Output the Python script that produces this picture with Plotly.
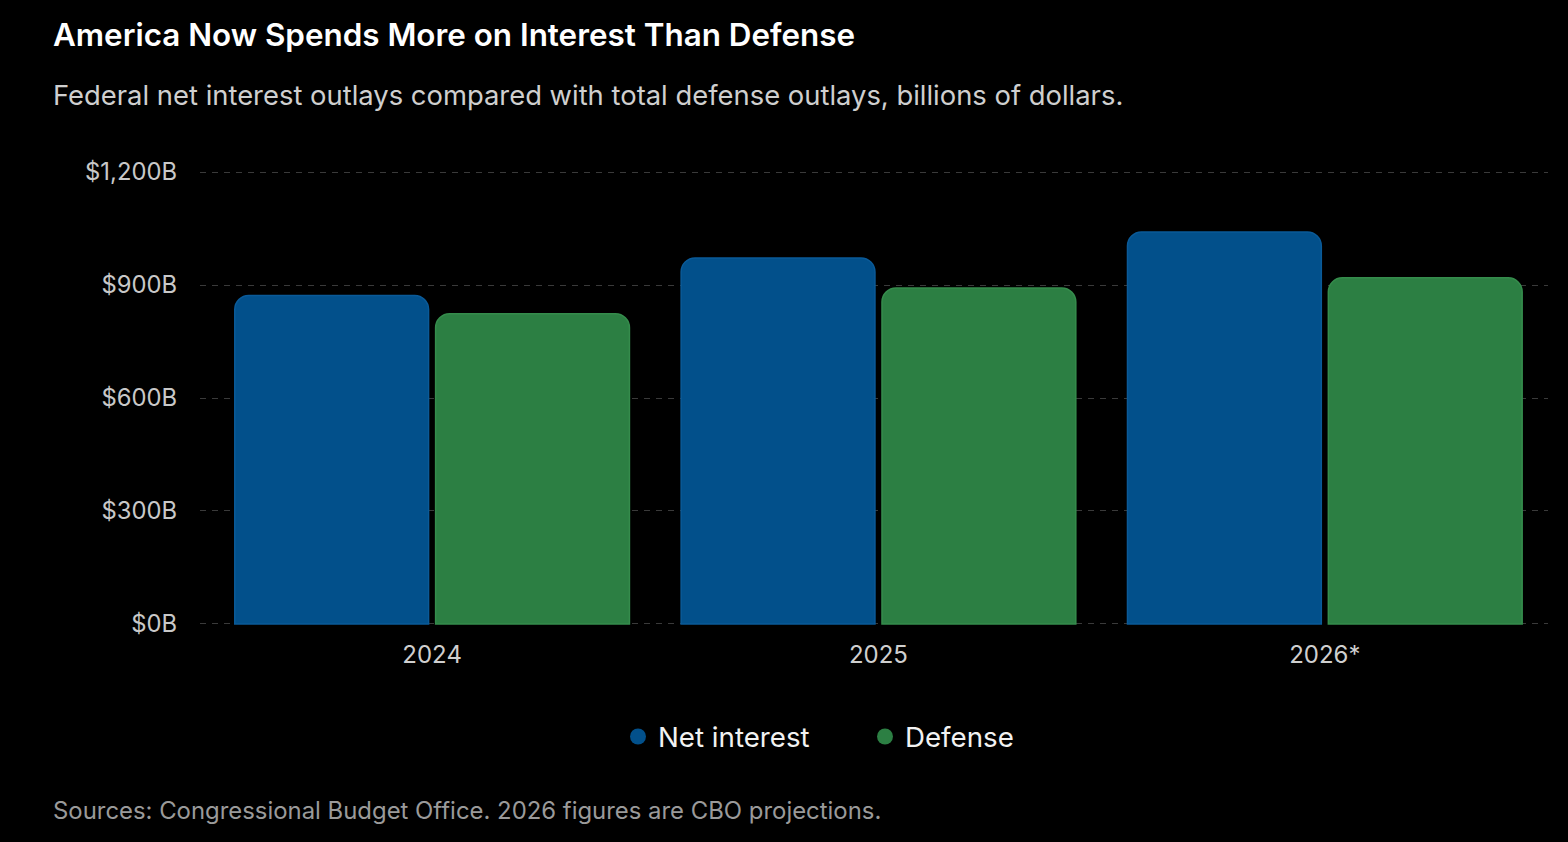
import plotly.graph_objects as go

# Federal outlays, billions of dollars
years = ["2024", "2025", "2026*"]
net_interest = [872, 972, 1041]
defense = [824, 892, 919]

series_names = ["Net interest", "Defense"]
tick_vals = [0, 300, 600, 900, 1200]
tick_text = ["$0B", "$300B", "$600B", "$900B", "$1,200B"]

BLUE = "#02508b"
BLUE_EDGE = "#0a5a98"
GREEN = "#2c7f43"
GREEN_EDGE = "#358c4c"
FONT = "Inter, Roboto, 'Open Sans', sans-serif"

fig = go.Figure()

fig.add_trace(go.Bar(
    x=years, y=net_interest, name=series_names[0],
    marker=dict(color=BLUE, line=dict(color=BLUE_EDGE, width=1.5)),
    showlegend=False,
    hovertemplate="%{x}: $%{y:,}B<extra>Net interest</extra>",
))
fig.add_trace(go.Bar(
    x=years, y=defense, name=series_names[1],
    marker=dict(color=GREEN, line=dict(color=GREEN_EDGE, width=1.5)),
    showlegend=False,
    hovertemplate="%{x}: $%{y:,}B<extra>Defense</extra>",
))

# legend entries with round dots
for name, color in zip(series_names, [BLUE, GREEN]):
    fig.add_trace(go.Scatter(
        x=[None], y=[None], mode="markers", name=name,
        marker=dict(color=color, size=20, symbol="circle"),
        showlegend=True, hoverinfo="skip",
    ))

# plot area: x 200..1548, y 169..627 (0 at ~624, 1200 at ~172)
L, R, T, B = 200, 20, 169, 215
PW = 1568 - L - R
PH = 842 - T - B

fig.update_layout(
    width=1568, height=842,
    paper_bgcolor="#000000",
    plot_bgcolor="#000000",
    font=dict(family=FONT, color="#cccccc"),
    barmode="group",
    bargap=0.1,
    bargroupgap=0.035,
    barcornerradius=14,
    margin=dict(l=L, r=R, t=T, b=B),
    title=dict(
        text="America Now Spends More on Interest Than Defense",
        x=53 / 1568, xanchor="left", xref="container",
        y=1 - 35 / 842, yanchor="middle", yref="container",
        font=dict(family=FONT, size=31.4, color="#ffffff", weight=600),
    ),
    legend=dict(
        orientation="h",
        xref="container", x=865 / 1568, xanchor="center",
        yref="container", y=1 - 737 / 842, yanchor="middle",
        font=dict(family=FONT, size=27.7, color="#f2f2f2"),
        itemsizing="trace",
        entrywidth=202, itemwidth=30,
        bgcolor="rgba(0,0,0,0)",
    ),
    annotations=[
        dict(
            text="Federal net interest outlays compared with total defense outlays, billions of dollars.",
            xref="paper", yref="paper", x=(51 - L) / PW, y=1 + (T - 95) / PH,
            xanchor="left", yanchor="middle", showarrow=False,
            font=dict(family=FONT, size=27.4, color="#cfcfcf"),
        ),
        dict(
            text="Sources: Congressional Budget Office. 2026 figures are CBO projections.",
            xref="paper", yref="paper", x=(51 - L) / PW, y=-(810 - (842 - B)) / PH,
            xanchor="left", yanchor="middle", showarrow=False,
            font=dict(family=FONT, size=23.9, color="#9a9a9a"),
        ),
    ],
    hovermode="closest",
)

fig.update_xaxes(
    range=[-0.52, 2.5],
    showgrid=False, zeroline=False, showline=False,
    ticks="", tickfont=dict(family=FONT, size=24, color="#cfcfcf"),
    ticklabelstandoff=11,
)
fig.update_yaxes(
    range=[-8, 1208],
    tickvals=tick_vals, ticktext=tick_text,
    showgrid=True, gridcolor="#3a3a3a", griddash="6px,6px", gridwidth=1.3,
    zeroline=False, showline=False, ticks="",
    tickfont=dict(family=FONT, size=23.8, color="#c8c8c8"),
    ticklabelstandoff=22,
)

fig.write_html(
    "out.html",
    config={"displayModeBar": False},
    post_script="document.body.style.margin='0';",
)
